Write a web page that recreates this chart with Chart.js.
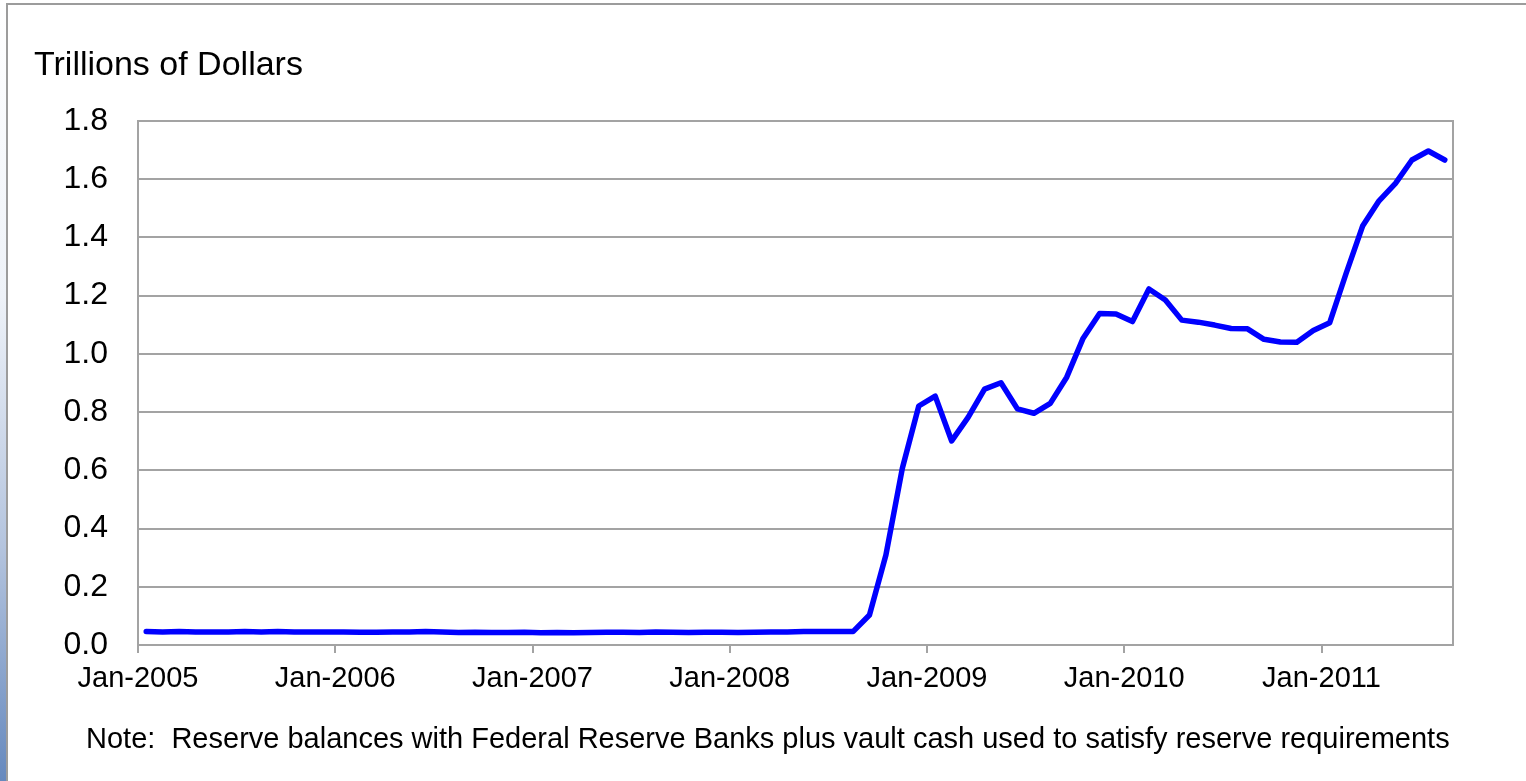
<!DOCTYPE html>
<html>
<head>
<meta charset="utf-8">
<script src="https://cdn.jsdelivr.net/npm/chart.js@4.4.0/dist/chart.umd.min.js"></script>
<style>
  html, body { margin: 0; padding: 0; background: #fff; }
  #wrap { position: relative; width: 1526px; height: 781px; overflow: hidden; }
  #strip {
    position: absolute; left: 0; top: 0; width: 6px; height: 781px;
    background: linear-gradient(to bottom, #ffffff 0%, #eef2f8 38%, #b4c4de 70%, #6689be 100%);
  }
  #frame {
    position: absolute; left: 6px; top: 3px; right: -2px; bottom: -2px;
    border-top: 2px solid #9c9c9c; border-left: 2px solid #9c9c9c;
  }
  canvas { position: absolute; left: 0; top: 0; }
</style>
</head>
<body>
<div id="wrap">
  <div id="strip"></div>
  <div id="frame"></div>
  <canvas id="chart" width="1526" height="781"></canvas>
</div>
<script>
// reserves of depository institutions, trillions of dollars, monthly
const reserves2005 = [0.046, 0.045, 0.046, 0.045, 0.045, 0.045, 0.046, 0.045, 0.046, 0.045, 0.045, 0.045];
const reserves2006 = [0.045, 0.044, 0.044, 0.045, 0.045, 0.046, 0.045, 0.043, 0.044, 0.043, 0.043, 0.044];
const reserves2007 = [0.042, 0.043, 0.042, 0.043, 0.044, 0.044, 0.043, 0.045, 0.044, 0.043, 0.044, 0.044];
const reserves2008 = [0.043, 0.044, 0.045, 0.045, 0.046, 0.046, 0.046, 0.046, 0.103, 0.309, 0.607, 0.821];
const reserves2009 = [0.855, 0.701, 0.782, 0.879, 0.901, 0.811, 0.796, 0.830, 0.920, 1.054, 1.139, 1.137];
const reserves2010 = [1.111, 1.223, 1.185, 1.116, 1.109, 1.099, 1.087, 1.086, 1.050, 1.041, 1.040, 1.080];
const reserves2011 = [1.107, 1.277, 1.439, 1.526, 1.586, 1.666, 1.697, 1.666];

const tickLabels = ["Jan-2005", "Jan-2006", "Jan-2007", "Jan-2008", "Jan-2009", "Jan-2010", "Jan-2011"];
const yTicks = [0, 0.2, 0.4, 0.6, 0.8, 1.0, 1.2, 1.4, 1.6, 1.8];

const yAxisTitle = "Trillions of Dollars";
const noteText = "Note:  Reserve balances with Federal Reserve Banks plus vault cash used to satisfy reserve requirements";

const reserves = [].concat(reserves2005, reserves2006, reserves2007, reserves2008,
  reserves2009, reserves2010, reserves2011);

// each month sits in the middle of its slot, year ticks on the slot edges
const points = reserves.map((v, i) => ({ x: i + 0.5, y: v }));

const FONT = "'Liberation Sans', Arial, sans-serif";
const GRID = "#a3a3a3";

// plot frame + free texts
const extras = {
  id: "extras",
  beforeDatasetsDraw(chart) {
    const { ctx, chartArea: a } = chart;
    ctx.save();
    ctx.strokeStyle = GRID;
    ctx.lineWidth = 2;
    ctx.strokeRect(a.left, a.top, a.right - a.left, a.bottom - a.top);
    ctx.restore();
  },
  afterDraw(chart) {
    const { ctx } = chart;
    ctx.save();
    ctx.fillStyle = "#000";
    ctx.textBaseline = "alphabetic";
    ctx.textAlign = "left";
    ctx.font = "34px " + FONT;
    ctx.fillText(yAxisTitle, 34, 75);
    ctx.font = "29px " + FONT;
    ctx.fillText(noteText, 86, 748);
    ctx.restore();
  },
};

const ctx = document.getElementById("chart").getContext("2d");
new Chart(ctx, {
  type: "line",
  data: {
    datasets: [
      {
        label: "Reserves",
        data: points,
        borderColor: "#0000ff",
        borderWidth: 5.5,
        borderJoinStyle: "round",
        borderCapStyle: "round",
        pointRadius: 0,
        tension: 0,
        fill: false,
      },
    ],
  },
  options: {
    responsive: false,
    animation: false,
    devicePixelRatio: 1,
    layout: { padding: { left: 0, top: 121, right: 73, bottom: 0 } },
    plugins: {
      legend: { display: false },
      title: { display: false },
      tooltip: { enabled: false },
    },
    scales: {
      x: {
        type: "linear",
        min: 0,
        max: reserves.length,
        afterBuildTicks: (scale) => {
          scale.ticks = tickLabels.map((_, k) => ({ value: k * 12 }));
        },
        afterFit: (scale) => { scale.height = 136; },
        grid: { drawOnChartArea: false, drawTicks: true, tickLength: 8, color: GRID, lineWidth: 2 },
        border: { display: true, color: GRID, width: 2 },
        ticks: {
          autoSkip: false,
          maxRotation: 0,
          padding: 9,
          color: "#000",
          font: { family: FONT, size: 29 },
          callback: (v) => tickLabels[v / 12],
        },
      },
      y: {
        min: 0,
        max: 1.8,
        afterBuildTicks: (scale) => {
          scale.ticks = yTicks.map((v) => ({ value: v }));
        },
        afterFit: (scale) => { scale.width = 138; },
        grid: { drawTicks: false, color: GRID, lineWidth: 2 },
        border: { display: true, color: GRID, width: 2 },
        ticks: {
          padding: 30,
          color: "#000",
          font: { family: FONT, size: 32 },
          callback: (v) => v.toFixed(1),
        },
      },
    },
  },
  plugins: [extras],
});
</script>
</body>
</html>
